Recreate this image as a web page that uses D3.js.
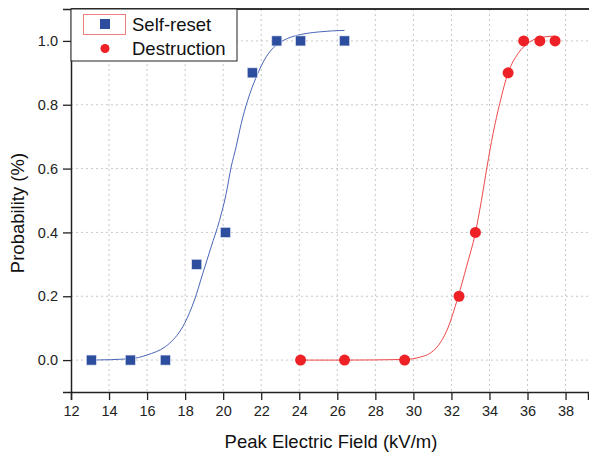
<!DOCTYPE html>
<html>
<head>
<meta charset="utf-8">
<script src="https://cdn.jsdelivr.net/npm/d3@7"></script>
<style>
  body { margin: 0; background: #fff; }
  svg { font-family: "Liberation Sans", Arial, sans-serif; }
</style>
</head>
<body>
<div id="chart"></div>
<script>
// measured points
const selfResetX = [13.07, 15.12, 16.96, 18.61, 20.12, 21.53, 22.82, 24.07, 26.38];
const selfResetY = [0, 0, 0, 0.3, 0.4, 0.9, 1.0, 1.0, 1.0];
const destructionX = [24.07, 26.38, 29.54, 32.4, 33.26, 34.98, 35.8, 36.65, 37.45];
const destructionY = [0, 0, 0, 0.2, 0.4, 0.9, 1.0, 1.0, 1.0];

// fitted curves
const selfFitX = [13.07, 15.1, 16.0, 16.96, 17.17, 17.97, 18.49, 18.93, 19.37, 19.81, 20.16, 20.42, 20.68, 20.95, 21.29, 21.74, 22.26, 22.79, 23.4, 24.07, 25.0, 26.38];
const selfFitY = [0.0, 0.004, 0.016, 0.042, 0.052, 0.115, 0.188, 0.272, 0.355, 0.438, 0.522, 0.605, 0.668, 0.741, 0.814, 0.887, 0.950, 0.987, 1.008, 1.02, 1.028, 1.033];
const destFitX = [24.07, 26.38, 29.54, 30.4, 30.86, 31.3, 31.74, 32.35, 32.79, 33.26, 33.58, 33.87, 34.19, 34.54, 34.98, 35.51, 36.12, 36.82, 37.45];
const destFitY = [0.0, 0.0, 0.002, 0.01, 0.021, 0.045, 0.09, 0.198, 0.292, 0.399, 0.501, 0.605, 0.71, 0.804, 0.9, 0.961, 0.997, 1.012, 1.015];

const xTicks = d3.range(12, 39, 2);
const yTicks = [0, 0.2, 0.4, 0.6, 0.8, 1.0];
const seriesNames = ["Self-reset", "Destruction"];

const width = 589, height = 454;
const margin = { top: 9, right: 1, bottom: 62, left: 71 };

const svg = d3.select("#chart").append("svg")
  .attr("width", width)
  .attr("height", height);

const x = d3.scaleLinear().domain([12, 39.18]).range([margin.left, width - margin.right]);
const y = d3.scaleLinear().domain([-0.1, 1.1]).range([height - margin.bottom, margin.top]);

// grid
const grid = svg.append("g")
  .attr("stroke", "#c8c8c8")
  .attr("stroke-width", 1)
  .attr("stroke-dasharray", "2,3");
grid.selectAll("line.vx")
  .data(xTicks.filter(d => d > 12))
  .join("line")
  .attr("x1", d => x(d)).attr("x2", d => x(d))
  .attr("y1", margin.top).attr("y2", height - margin.bottom);
grid.selectAll("line.hy")
  .data(yTicks)
  .join("line")
  .attr("x1", margin.left).attr("x2", width - margin.right)
  .attr("y1", d => y(d)).attr("y2", d => y(d));

// axes
const xAxis = svg.append("g")
  .attr("transform", `translate(0,${height - margin.bottom})`)
  .call(d3.axisBottom(x).tickValues(xTicks).tickSize(8).tickPadding(6).tickFormat(d3.format("d")));
const yAxis = svg.append("g")
  .attr("transform", `translate(${margin.left},0)`)
  .call(d3.axisLeft(y).tickValues(yTicks).tickSize(8).tickPadding(5).tickFormat(d3.format(".1f")));

[xAxis, yAxis].forEach(a => {
  a.select(".domain").attr("stroke", "#222").attr("stroke-width", 1.5);
  a.selectAll(".tick line").attr("stroke", "#222").attr("stroke-width", 1.3);
  a.selectAll(".tick text").attr("fill", "#222").style("font-size", "14.5px");
});

// top frame
svg.append("line")
  .attr("x1", margin.left).attr("x2", width)
  .attr("y1", margin.top).attr("y2", margin.top)
  .attr("stroke", "#333").attr("stroke-width", 2);

// fit lines
const line = d3.line().x(d => x(d[0])).y(d => y(d[1])).curve(d3.curveMonotoneX);
svg.append("path")
  .datum(d3.zip(selfFitX, selfFitY))
  .attr("fill", "none")
  .attr("stroke", "#4a66b8")
  .attr("stroke-width", 1)
  .attr("d", line);
svg.append("path")
  .datum(d3.zip(destFitX, destFitY))
  .attr("fill", "none")
  .attr("stroke", "#f04848")
  .attr("stroke-width", 1)
  .attr("d", line);

// markers
const sq = 10;
svg.append("g").selectAll("rect")
  .data(d3.zip(selfResetX, selfResetY))
  .join("rect")
  .attr("x", d => x(d[0]) - sq / 2)
  .attr("y", d => y(d[1]) - sq / 2)
  .attr("width", sq).attr("height", sq)
  .attr("fill", "#2d4d9e")
  .attr("stroke", "#dde3f2")
  .attr("stroke-width", 0.6);
svg.append("g").selectAll("circle")
  .data(d3.zip(destructionX, destructionY))
  .join("circle")
  .attr("cx", d => x(d[0]))
  .attr("cy", d => y(d[1]))
  .attr("r", 5.5)
  .attr("fill", "#ee2226");

// legend
const legend = svg.append("g");
legend.append("rect")
  .attr("x", margin.left).attr("y", margin.top)
  .attr("width", 166).attr("height", 52)
  .attr("fill", "#fff").attr("stroke", "#222").attr("stroke-width", 1);
legend.append("rect")
  .attr("x", 83.5).attr("y", 14.5)
  .attr("width", 42).attr("height", 20)
  .attr("fill", "none").attr("stroke", "#f08080").attr("stroke-width", 1);
legend.append("rect")
  .attr("x", 100).attr("y", 19)
  .attr("width", 10).attr("height", 10)
  .attr("fill", "#2d4d9e");
legend.append("circle")
  .attr("cx", 105).attr("cy", 48.5).attr("r", 4.5)
  .attr("fill", "#ee2226");
legend.selectAll("text")
  .data(seriesNames)
  .join("text")
  .attr("x", 132)
  .attr("y", (d, i) => 31 + i * 24)
  .attr("fill", "#111")
  .style("font-size", "18.5px")
  .text(d => d);

// axis titles
svg.append("text")
  .attr("x", 331)
  .attr("y", 448)
  .attr("text-anchor", "middle")
  .attr("fill", "#111")
  .style("font-size", "18.5px")
  .text("Peak Electric Field (kV/m)");
svg.append("text")
  .attr("transform", `translate(23.5,213) rotate(-90)`)
  .attr("text-anchor", "middle")
  .attr("fill", "#111")
  .style("font-size", "18.5px")
  .text("Probability (%)");
</script>
</body>
</html>
